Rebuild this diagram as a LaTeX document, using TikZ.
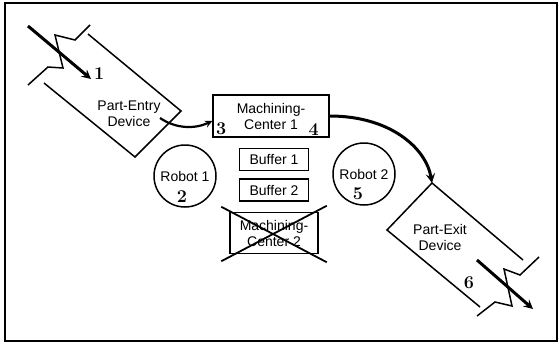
\documentclass[tikz,border=0pt]{standalone}
\usepackage{fontspec}
\setsansfont{Liberation Sans}
\usepackage{tikz}
\usetikzlibrary{positioning}
\newcommand{\lblfont}{\sffamily\fontsize{14}{16}\selectfont}
\newcommand{\numfont}{\rmfamily\bfseries\fontsize{18}{20}\selectfont}
\tikzset{
  block/.style={rectangle,draw,line width=1.5pt,inner sep=0pt,
    align=center,font=\lblfont},
  robot/.style={circle,draw,line width=1.5pt,inner sep=0pt,
    minimum size=62pt,font=\lblfont},
  devlabel/.style={align=center,font=\lblfont,inner sep=0pt},
  num/.style={font=\numfont,inner sep=0pt},
  conveyor/.style={line width=1.5pt,line join=miter},
  arrow/.style={->,>=stealth,line width=2.2pt},
  bigarrow/.style={->,>=stealth,line width=3pt},
  cross/.style={line width=1.8pt}
}

\begin{document}
\begin{tikzpicture}[x=1pt,y=-1pt]
\useasboundingbox (0,0) rectangle (559,343);
\draw[line width=1.5pt] (5,3) rectangle (557,341);

% part-entry device
\draw[conveyor] (88,34) -- (181,111) -- (135,157) -- (44,83);
\draw[conveyor] (90,25) -- (75,40) -- (55,35) -- (63,68) -- (48,67) -- (28,85);
\node[devlabel] (entry) at (129,114) {Part-Entry\\Device};
\coordinate (partin) at (28,26);
\coordinate (entryend) at (91,79);
\draw[bigarrow] (partin) -- (entryend);
\node[num, anchor=west] (n1) at (94,74) {1};

% cell
\node[block, minimum width=116pt, minimum height=42pt] (mc1) at (271,116)
  {Machining-\\Center 1};
\node[num] (n3) at ([xshift=9pt,yshift=9pt]mc1.south west) {3};
\node[num] (n4) at ([xshift=-16pt,yshift=8pt]mc1.south east) {4};
\node[block, minimum width=69pt, minimum height=22pt, below=10pt of mc1,
  xshift=3pt] (buf1) {Buffer 1};
\node[block, minimum width=69pt, minimum height=22pt, below=7pt of buf1]
  (buf2) {Buffer 2};
\node[block, minimum width=88pt, minimum height=41pt, below=10pt of buf2]
  (mc2) {Machining-\\Center 2};
\draw[cross] ([xshift=-8pt,yshift=5pt]mc2.north west)
  -- ([xshift=8pt,yshift=-8pt]mc2.south east);
\draw[cross] ([xshift=8pt,yshift=6pt]mc2.north east)
  -- ([xshift=-8pt,yshift=-7pt]mc2.south west);

\node[robot] (r1) at (185,176) {Robot 1};
\node[num] (n2) at ([xshift=-3pt,yshift=-21pt]r1.center) {2};
\node[robot] (r2) at (364,174) {Robot 2};
\node[num] (n5) at ([xshift=-6pt,yshift=-20pt]r2.center) {5};

% part-exit device
\coordinate (exittop) at (432,183);
\draw[conveyor] (523,260) -- (exittop) -- (387,230) -- (480,307);
\draw[conveyor] (539,257) -- (520,275) -- (504,269) -- (512,306) -- (495,302) -- (477,316);
\node[devlabel] (exit) at (440,237) {Part-Exit\\Device};
\node[num] (n6) at (469,283) {6};
\coordinate (exitstart) at (477,260);
\coordinate (partout) at (533,309);
\draw[bigarrow] (exitstart) -- (partout);

% part flow
\coordinate (entryout) at (160,118);
\draw[arrow] (entryout) .. controls (176,129) and (195,129)
  .. ([yshift=-5pt]mc1.west);
\draw[bigarrow] (mc1.east) .. controls (390,116) and (426,148) .. (exittop);
\end{tikzpicture}
\end{document}
